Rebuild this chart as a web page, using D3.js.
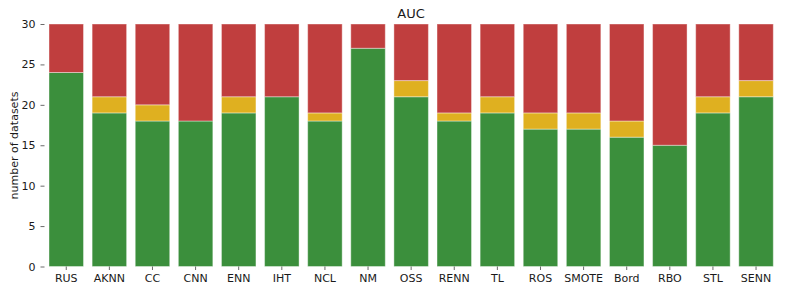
<!DOCTYPE html>
<html><head><meta charset="utf-8">
<script src="https://cdn.jsdelivr.net/npm/d3@7"></script>
<style>body{margin:0;background:#fff}svg{display:block}text{font-family:"DejaVu Sans",sans-serif}</style>
</head><body><div id="chart"></div>
<script>
const categories = ["RUS","AKNN","CC","CNN","ENN","IHT","NCL","NM","OSS","RENN","TL","ROS","SMOTE","Bord","RBO","STL","SENN"];
const wins   = [24,19,18,18,19,21,18,27,21,18,19,17,17,16,15,19,21];
const ties   = [0,2,2,0,2,0,1,0,2,1,2,2,2,2,0,2,2];
const losses = [6,9,10,12,9,9,11,3,7,11,9,11,11,12,15,9,7];
const yTicks = [0,5,10,15,20,25,30];
const colors = {wins:"#3b8f3c", ties:"#dfb020", losses:"#c03e3e"};

const W=789,H=293;
const svg=d3.select("#chart").append("svg").attr("width",W).attr("height",H);
const x=d3.scaleBand().domain(categories).range([44.7,777.6]).paddingInner(0.2).paddingOuter(0.1);
const y=d3.scaleLinear().domain([0,30]).range([266.5,24]);

const rows=categories.map((c,i)=>({cat:c,wins:wins[i],ties:ties[i],losses:losses[i]}));
const stack=d3.stack().keys(["wins","ties","losses"])(rows);
svg.append("g").selectAll("g").data(stack).join("g").attr("fill",d=>colors[d.key])
 .selectAll("rect").data(d=>d.filter(p=>p[1]>p[0])).join("rect")
 .attr("x",d=>x(d.data.cat)).attr("width",x.bandwidth())
 .attr("y",d=>y(d[1])).attr("height",d=>y(d[0])-y(d[1]))
 .attr("stroke","#fff").attr("stroke-opacity",0.4).attr("stroke-width",1);

const ya=svg.append("g").attr("transform","translate(44.5,0)")
 .call(d3.axisLeft(y).tickValues(yTicks).tickSize(4).tickPadding(5));
ya.select(".domain").remove();
ya.selectAll("line").attr("stroke","#444").attr("stroke-width",0.8);
ya.selectAll("text").attr("font-size","11px").attr("fill","#1a1a1a");

const xa=svg.append("g").attr("transform","translate(0,266.5)")
 .call(d3.axisBottom(x).tickSize(3.5).tickPadding(4));
xa.select(".domain").remove();
xa.selectAll("line").attr("stroke","#444").attr("stroke-width",0.8);
xa.selectAll("text").attr("font-size","11px").attr("fill","#1a1a1a");

svg.append("text").attr("transform","translate(17.5,145.5) rotate(-90)").attr("text-anchor","middle")
 .attr("font-size","11px").attr("fill","#1a1a1a").text("number of datasets");
svg.append("text").attr("x",411).attr("y",17.5).attr("text-anchor","middle")
 .attr("font-size","13px").attr("fill","#1a1a1a").text("AUC");
</script></body></html>
